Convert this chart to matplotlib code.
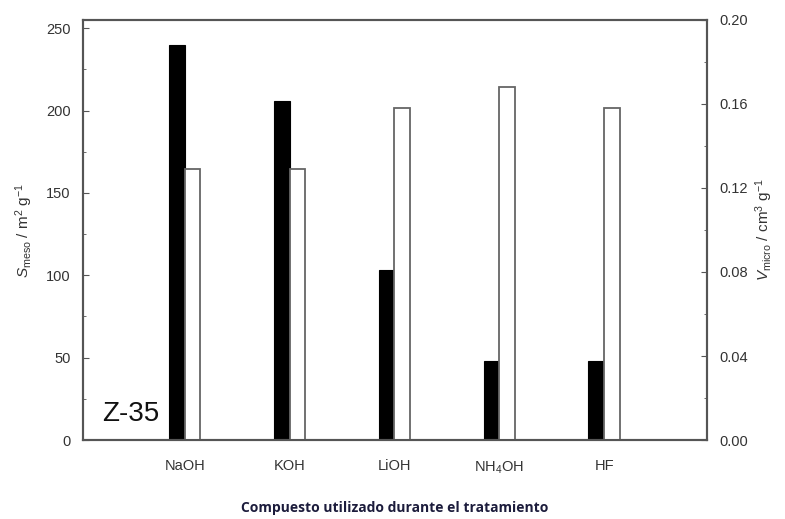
import matplotlib.pyplot as plt
from matplotlib.ticker import MultipleLocator

plt.rcParams['font.family'] = 'Liberation Sans'
plt.rcParams['mathtext.fontset'] = 'custom'
plt.rcParams['mathtext.rm'] = 'Liberation Sans'
plt.rcParams['mathtext.it'] = 'Liberation Sans:italic'

# data
compuestos = ['NaOH', 'KOH', 'LiOH', r'NH$_4$OH', 'HF']
s_meso = [240, 206, 103, 48, 48]              # m2/g, black bars
v_micro = [0.129, 0.129, 0.158, 0.168, 0.158]  # cm3/g, white bars

pos = [1, 2, 3, 4, 5]
w = 0.15
gris = '#555555'

fig = plt.figure(figsize=(7.85, 5.19), dpi=100)
ax = fig.add_axes([0.1057, 0.1522, 0.7949, 0.8093])
ax2 = ax.twinx()

ax.bar([p - w / 2 for p in pos], s_meso, width=w, color='black', edgecolor='black', linewidth=0.8)
ax2.bar([p + w / 2 for p in pos], v_micro, width=w, color='white', edgecolor='#666666', linewidth=1.3)

ax.set_xlim(0.03, 5.98)
ax.set_ylim(0, 255)
ax2.set_ylim(0, 0.2)

ax.set_xticks(pos)
ax.set_xticklabels(compuestos)
ax.tick_params(axis='x', length=0, pad=14, labelsize=10.5, colors='#333333')

ax.yaxis.set_major_locator(MultipleLocator(50))
ax.yaxis.set_minor_locator(MultipleLocator(25))
ax2.yaxis.set_major_locator(MultipleLocator(0.04))
ax2.yaxis.set_minor_locator(MultipleLocator(0.02))
ax2.yaxis.set_major_formatter(lambda v, p: f'{v:.2f}')

ax.tick_params(axis='y', which='both', direction='in', labelsize=10.5, colors=gris, labelcolor='#333333', pad=9)
ax.tick_params(axis='y', which='major', length=4)
ax.tick_params(axis='y', which='minor', length=2)
ax2.tick_params(axis='y', which='both', direction='in', labelsize=10.5, colors=gris, labelcolor='#333333', pad=9)
ax2.tick_params(axis='y', which='major', length=4)
ax2.tick_params(axis='y', which='minor', length=2)

for a in (ax, ax2):
    for s in a.spines.values():
        s.set_color(gris)
        s.set_linewidth(1.5)

ax.set_ylabel(r'$S_{\mathrm{meso}}$ / m$^{2}$ g$^{-1}$', fontsize=11, color='#333333', labelpad=8)
ax2.set_ylabel(r'$V_{\mathrm{micro}}$ / cm$^{3}$ g$^{-1}$', fontsize=11, color='#333333', labelpad=4)
ax.set_xlabel('Compuesto utilizado durante el tratamiento', fontsize=10, fontweight='bold',
              family='Open Sans', color='#1c1c3c', labelpad=18)

ax.text(0.03, 0.045, 'Z-35', transform=ax.transAxes, fontsize=20, color='#111111')

fig.savefig('out.png', dpi=100)
